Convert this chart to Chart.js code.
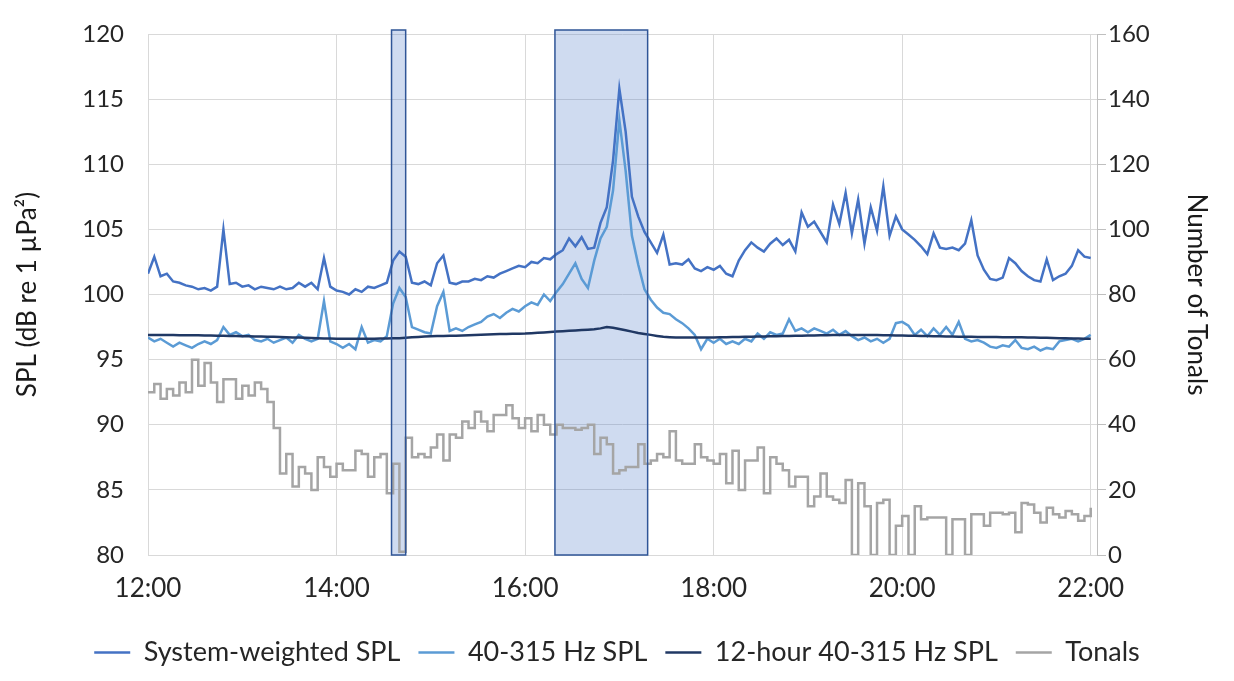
<!DOCTYPE html>
<html>
<head>
<meta charset="utf-8">
<script src="https://cdn.jsdelivr.net/npm/chart.js@4.4.0/dist/chart.umd.min.js"></script>
<style>
  html, body { margin: 0; padding: 0; background: #fff; }
</style>
</head>
<body>
<canvas id="chart" width="1234" height="681"></canvas>
<script>
// minutes after 12:00, one reading every 4 minutes up to 22:00
const minutes = [];
for (let m = 0; m <= 600; m += 4) minutes.push(m);

// x tick positions (minutes after 12:00)
const timeTicks = [0, 120, 240, 360, 480, 600];

const systemWeighted = [
  101.6, 102.9, 101.4, 101.6, 101.0, 100.9, 100.7, 100.6, 100.4, 100.5,
  100.3, 100.6, 105.0, 100.8, 100.9, 100.6, 100.7, 100.4, 100.6, 100.5,
  100.4, 100.6, 100.4, 100.5, 100.9, 100.6, 100.9, 100.4, 102.8, 100.6,
  100.3, 100.2, 100.0, 100.4, 100.2, 100.6, 100.5, 100.7, 100.9, 102.6,
  103.3, 102.9, 100.9, 100.8, 101.0, 100.7, 102.4, 103.0, 100.9, 100.8,
  101.0, 101.0, 101.2, 101.1, 101.4, 101.3, 101.6, 101.8, 102.0, 102.2,
  102.1, 102.5, 102.4, 102.8, 102.7, 103.1, 103.4, 104.3, 103.7, 104.4,
  103.5, 103.6, 105.5, 106.7, 110.3, 115.8, 112.5, 107.5, 106.0, 104.8,
  104.0, 103.2, 104.6, 102.3, 102.4, 102.3, 102.7, 102.0, 101.8, 102.1,
  101.9, 102.2, 101.6, 101.4, 102.6, 103.4, 104.0, 103.6, 103.3, 103.9,
  104.3, 103.8, 104.2, 103.3, 106.3, 105.2, 105.6, 104.8, 104.0, 106.9,
  105.4, 107.8, 104.7, 107.3, 103.9, 106.7, 104.9, 108.3, 104.5, 106.0,
  105.0, 104.6, 104.2, 103.7, 103.1, 104.7, 103.6, 103.5, 103.6, 103.4,
  103.9, 105.7, 103.0, 101.9, 101.2, 101.1, 101.3, 102.8, 102.4, 101.8,
  101.4, 101.1, 101.0, 102.7, 101.1, 101.4, 101.6, 102.2, 103.4, 102.9, 102.8
];

const band40to315 = [
  96.7, 96.4, 96.6, 96.3, 96.0, 96.3, 96.1, 95.9, 96.2, 96.4,
  96.2, 96.5, 97.5, 96.9, 97.1, 96.8, 96.9, 96.5, 96.4, 96.6,
  96.3, 96.5, 96.7, 96.3, 96.9, 96.6, 96.4, 96.6, 99.5, 96.4,
  96.2, 95.9, 96.2, 95.8, 97.5, 96.3, 96.5, 96.4, 96.8, 99.3,
  100.5, 99.8, 97.5, 97.3, 97.1, 97.0, 99.1, 100.2, 97.2, 97.4,
  97.2, 97.5, 97.7, 97.9, 98.3, 98.5, 98.2, 98.6, 98.9, 98.7,
  99.1, 99.4, 99.2, 100.0, 99.5, 100.2, 100.8, 101.6, 102.4, 101.2,
  100.5, 102.6, 104.3, 105.2, 108.0, 113.4, 109.5, 104.5, 102.3, 100.4,
  99.6, 99.0, 98.6, 98.5, 98.1, 97.8, 97.4, 96.9, 95.8, 96.6,
  96.3, 96.6, 96.2, 96.4, 96.2, 96.6, 96.4, 97.0, 96.6, 97.1,
  96.9, 97.0, 98.1, 97.2, 97.4, 97.1, 97.4, 97.2, 97.0, 97.3,
  96.9, 97.2, 96.8, 96.5, 96.7, 96.4, 96.6, 96.3, 96.6, 97.8,
  97.9, 97.6, 96.9, 97.3, 96.8, 97.4, 96.9, 97.5, 96.9, 97.9,
  96.6, 96.4, 96.5, 96.3, 96.0, 95.9, 96.1, 96.0, 96.5, 95.9,
  95.8, 96.0, 95.7, 95.9, 95.8, 96.4, 96.5, 96.6, 96.4, 96.6, 96.9
];

const band12hour = [
  96.9, 96.9, 96.9, 96.9, 96.9, 96.88, 96.88, 96.87, 96.87, 96.86,
  96.85, 96.84, 96.83, 96.82, 96.81, 96.8, 96.79, 96.78, 96.77, 96.76,
  96.75, 96.74, 96.72, 96.7, 96.69, 96.68, 96.66, 96.65, 96.63, 96.62,
  96.6, 96.6, 96.6, 96.6, 96.6, 96.6, 96.61, 96.62, 96.63, 96.64,
  96.65, 96.68, 96.71, 96.74, 96.77, 96.8, 96.81, 96.82, 96.83, 96.84,
  96.85, 96.87, 96.89, 96.91, 96.93, 96.95, 96.96, 96.97, 96.98, 96.99,
  97.0, 97.03, 97.06, 97.09, 97.12, 97.15, 97.18, 97.21, 97.24, 97.27,
  97.3, 97.33, 97.4, 97.5, 97.45, 97.35, 97.25, 97.15, 97.05, 96.97,
  96.9, 96.82, 96.75, 96.72, 96.7, 96.7, 96.7, 96.7, 96.7, 96.7,
  96.7, 96.71, 96.72, 96.73, 96.74, 96.75, 96.76, 96.77, 96.78, 96.79,
  96.8, 96.81, 96.82, 96.83, 96.84, 96.85, 96.86, 96.87, 96.88, 96.89,
  96.9, 96.9, 96.9, 96.9, 96.9, 96.9, 96.89, 96.88, 96.87, 96.86,
  96.85, 96.84, 96.83, 96.82, 96.81, 96.8, 96.79, 96.78, 96.77, 96.76,
  96.75, 96.75, 96.74, 96.74, 96.73, 96.73, 96.72, 96.72, 96.71, 96.71,
  96.7, 96.69, 96.68, 96.67, 96.66, 96.65, 96.64, 96.63, 96.62, 96.61, 96.6
];

const tonals = [
  50, 52.5, 48, 51, 49, 53, 50, 60, 52, 59,
  53, 47, 54, 54, 48, 52, 49, 53, 51, 47,
  39, 25, 31, 21, 27, 25, 20, 30, 27, 24,
  28, 26, 26, 32, 31, 24, 30, 31, 19, 28,
  1, 36, 30, 31, 30, 33, 37, 29, 37, 36,
  41, 39, 44, 41, 38, 43, 43, 46, 42, 39,
  42, 38, 43, 40, 37, 40, 39, 39, 38.5, 39,
  40, 31, 36, 34, 25, 26, 27, 27, 34, 28,
  29, 31, 30, 38, 29, 28, 28, 34, 30, 29,
  28, 31, 22, 32, 20, 29, 29, 33, 19, 30,
  28, 26, 21, 24, 24, 15, 18, 25, 18, 17,
  16, 23, 0, 22, 15, 0, 16, 17, 0, 9,
  12, 0, 15, 11, 11.5, 11.5, 11.5, 0, 11, 11,
  0, 12.5, 12.5, 9, 13, 13, 12.5, 13, 7, 16,
  15.5, 13, 10, 14.5, 12.5, 11.5, 13.5, 12.5, 10.5, 12, 14.5
];

// highlighted time windows, minutes after 12:00
const shadedWindows = [[155, 164], [259, 318]];

const FONT = 'Lato, "Open Sans", sans-serif';
const TEXT = '#262626';
const GRID = '#d9d9d9';

function pts(values) {
  return minutes.map((m, i) => ({ x: m, y: values[i] }));
}

function hhmm(v) {
  return (12 + Math.round(v / 60)) + ':00';
}

// blue boxes around the two windows
const windowBoxes = {
  id: 'windowBoxes',
  beforeDatasetsDraw(chart) {
    const { ctx, chartArea, scales } = chart;
    ctx.save();
    ctx.fillStyle = 'rgba(68, 114, 196, 0.26)';
    shadedWindows.forEach(([a, b]) => {
      const x0 = scales.x.getPixelForValue(a);
      const x1 = scales.x.getPixelForValue(b);
      ctx.fillRect(x0, chartArea.top - 4, x1 - x0, chartArea.bottom - chartArea.top + 4);
    });
    ctx.restore();
  },
  afterDatasetsDraw(chart) {
    const { ctx, chartArea, scales } = chart;
    ctx.save();
    ctx.strokeStyle = '#2f5597';
    ctx.lineWidth = 1.5;
    shadedWindows.forEach(([a, b]) => {
      const x0 = scales.x.getPixelForValue(a);
      const x1 = scales.x.getPixelForValue(b);
      ctx.strokeRect(x0, chartArea.top - 4, x1 - x0, chartArea.bottom - chartArea.top + 4);
    });
    ctx.restore();
  }
};

new Chart(document.getElementById('chart').getContext('2d'), {
  type: 'line',
  data: {
    datasets: [
      {
        label: 'System-weighted SPL',
        data: pts(systemWeighted),
        borderColor: '#4472c4',
        yAxisID: 'y',
        order: 4
      },
      {
        label: '40-315 Hz SPL',
        data: pts(band40to315),
        borderColor: '#5b9bd5',
        yAxisID: 'y',
        order: 3
      },
      {
        label: '12-hour 40-315 Hz SPL',
        data: pts(band12hour),
        borderColor: '#203864',
        yAxisID: 'y',
        order: 2
      },
      {
        label: 'Tonals',
        data: pts(tonals),
        borderColor: '#a5a5a5',
        yAxisID: 'y2',
        stepped: true,
        order: 1
      }
    ]
  },
  options: {
    responsive: false,
    animation: false,
    elements: {
      line: { borderWidth: 2.5, tension: 0 },
      point: { radius: 0 }
    },
    layout: { padding: { top: 34, left: 0, right: 0, bottom: 5 } },
    scales: {
      x: {
        type: 'linear',
        min: 0,
        max: 604,
        afterBuildTicks(s) { s.ticks = timeTicks.map(v => ({ value: v })); },
        ticks: {
          autoSkip: false,
          maxRotation: 0,
          padding: 18,
          color: TEXT,
          font: { family: FONT, size: 26 },
          callback: hhmm
        },
        grid: { color: GRID, drawTicks: false },
        border: { display: false },
        afterFit(s) { s.height = 66; }
      },
      y: {
        position: 'left',
        min: 80,
        max: 120,
        ticks: { stepSize: 5, padding: 24, color: TEXT, font: { family: FONT, size: 24 } },
        grid: { color: GRID, drawTicks: false },
        border: { display: false },
        title: {
          display: true,
          text: 'SPL (dB re 1 µPa²)',
          color: '#1a1a1a',
          font: { family: FONT, size: 26 },
          padding: { top: 12, bottom: 0 }
        },
        afterFit(s) {
          s.width = 148;
          s.paddingTop = 0;
          s.paddingBottom = 0;
        }
      },
      y2: {
        position: 'right',
        min: 0,
        max: 160,
        ticks: { stepSize: 20, padding: 2, color: TEXT, font: { family: FONT, size: 24 } },
        grid: { drawOnChartArea: false, color: '#bfbfbf', tickLength: 9 },
        border: { display: true, color: '#bfbfbf' },
        title: {
          display: true,
          text: 'Number of Tonals',
          color: '#1a1a1a',
          font: { family: FONT, size: 26 },
          padding: { top: 22, bottom: 0 }
        },
        afterFit(s) {
          s.width = 137;
          s.paddingTop = 0;
          s.paddingBottom = 0;
        }
      }
    },
    plugins: {
      tooltip: { enabled: false },
      legend: {
        position: 'bottom',
        labels: {
          usePointStyle: true,
          pointStyle: 'line',
          pointStyleWidth: 36,
          padding: 18,
          color: TEXT,
          font: { family: FONT, size: 27 },
          sort: (a, b) => a.datasetIndex - b.datasetIndex,
          generateLabels(chart) {
            const items = Chart.defaults.plugins.legend.labels.generateLabels(chart);
            items.forEach(it => {
              it.lineWidth = 2.5;
              it.strokeStyle = chart.data.datasets[it.datasetIndex].borderColor;
            });
            return items;
          }
        }
      }
    }
  },
  plugins: [windowBoxes]
});
</script>
</body>
</html>
